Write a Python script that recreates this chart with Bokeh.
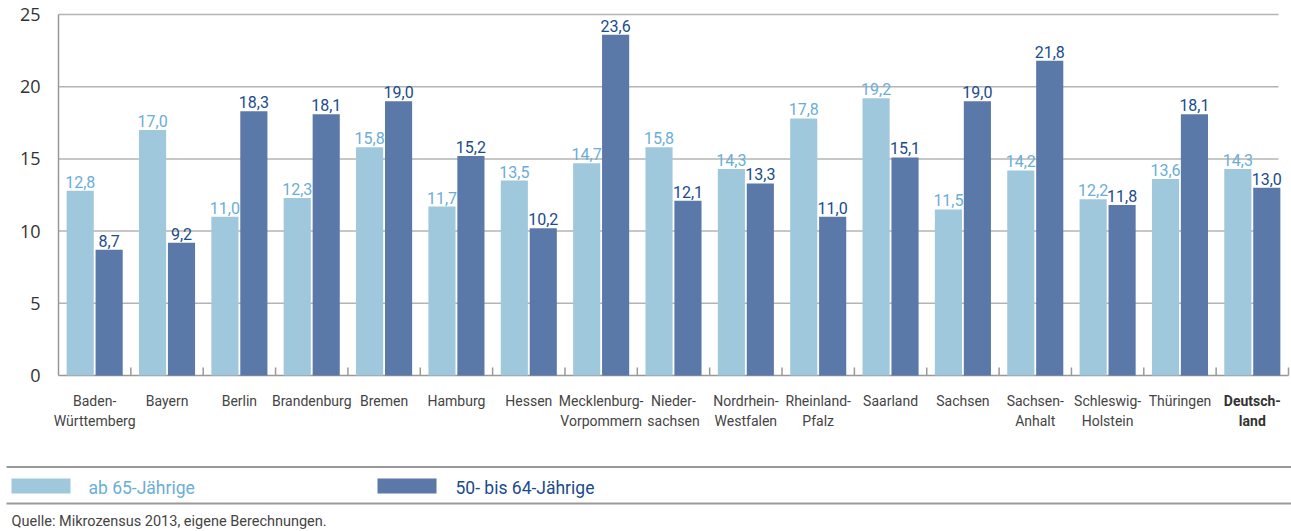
from bokeh.plotting import figure
from bokeh.models import Range1d, ColumnDataSource
from bokeh.core.properties import value
from bokeh.embed import file_html
from bokeh.resources import INLINE

# ---- data ----
states = ["Baden-\nWürttemberg", "Bayern", "Berlin", "Brandenburg", "Bremen", "Hamburg",
          "Hessen", "Mecklenburg-\nVorpommern", "Nieder-\nsachsen", "Nordrhein-\nWestfalen",
          "Rheinland-\nPfalz", "Saarland", "Sachsen", "Sachsen-\nAnhalt", "Schleswig-\nHolstein",
          "Thüringen", "Deutsch-\nland"]
ab65 = [12.8, 17.0, 11.0, 12.3, 15.8, 11.7, 13.5, 14.7, 15.8, 14.3, 17.8, 19.2, 11.5, 14.2, 12.2, 13.6, 14.3]
bis64 = [8.7, 9.2, 18.3, 18.1, 19.0, 15.2, 10.2, 23.6, 12.1, 13.3, 11.0, 15.1, 19.0, 21.8, 11.8, 18.1, 13.0]
y_ticks = [0, 5, 10, 15, 20, 25]
y_max = 25
series_names = ["ab 65-Jährige", "50- bis 64-Jährige"]
source_note = "Quelle: Mikrozensus 2013, eigene Berechnungen."

LIGHT = "#a0c8dd"
DARK = "#5a78a8"
LIGHT_TXT = "#6aaed6"
DARK_TXT = "#1a4b8c"
AXIS = "#999999"
GRID = "#b4b4b4"
FONT = "Roboto"

W, H = 1291, 531
L, R, T, B = 58, 1288, 14, 375   # plot area in page pixels
n = len(states)
ux = (R - L) / n
uy = (B - T) / y_max

def xd(px):
    return (px - L) / ux

def yd(py):
    return (B - py) / uy

p = figure(width=W, height=H, output_backend="svg", toolbar_location=None,
           x_axis_type=None, y_axis_type=None,
           x_range=Range1d(xd(0), xd(W)), y_range=Range1d(yd(H), yd(0)),
           min_border=0, min_border_left=0, min_border_right=0,
           min_border_top=0, min_border_bottom=0)
p.outline_line_color = None
p.grid.visible = False

# grid lines and axes
p.segment(x0=[0] * (len(y_ticks) - 1), x1=[xd(1278)] * (len(y_ticks) - 1),
          y0=y_ticks[1:], y1=y_ticks[1:], line_color=GRID, line_width=1.5)
p.segment(x0=[0], x1=[0], y0=[0], y1=[y_max], line_color=AXIS, line_width=1.5)
p.segment(x0=[0], x1=[n], y0=[0], y1=[0], line_color=AXIS, line_width=1.5)
p.segment(x0=list(range(1, n + 1)), x1=list(range(1, n + 1)),
          y0=[0] * n, y1=[yd(B - 8)] * n, line_color=AXIS, line_width=1.5)
p.text(x=[xd(40)] * len(y_ticks), y=y_ticks, text=[str(t) for t in y_ticks],
       text_align="right", text_baseline="middle", text_font=value("Open Sans"),
       text_font_size="18px", text_color="#333333")

# bars
off = 0.2
bw = 0.375
xs = [i + 0.5 for i in range(n)]
src = ColumnDataSource(dict(
    xl=[x - off for x in xs], xr=[x + off for x in xs],
    a=ab65, b=bis64,
    ta=[f"{v:.1f}".replace(".", ",") for v in ab65],
    tb=[f"{v:.1f}".replace(".", ",") for v in bis64],
))
p.vbar(x="xl", top="a", width=bw, bottom=0, source=src, fill_color=LIGHT, line_color=None)
p.vbar(x="xr", top="b", width=bw, bottom=0, source=src, fill_color=DARK, line_color=None)

p.text(x="xl", y="a", text="ta", source=src, text_align="center", text_baseline="bottom",
       y_offset=-3, text_font=value(FONT), text_font_size="16px", text_color=LIGHT_TXT)
p.text(x="xr", y="b", text="tb", source=src, text_align="center", text_baseline="bottom",
       y_offset=-3, text_font=value(FONT), text_font_size="16px", text_color=DARK_TXT)

# category labels
cat_src = ColumnDataSource(dict(x=xs[:-1], t=states[:-1]))
p.text(x="x", y=yd(392), text="t", source=cat_src, text_align="center", text_baseline="top",
       text_font=value(FONT), text_font_size="14px", text_color="#444444", text_line_height=1.3)
p.text(x=[xs[-1]], y=[yd(392)], text=[states[-1]], text_align="center", text_baseline="top",
       text_font=value(FONT), text_font_size="14px", text_font_style="bold",
       text_color="#333333", text_line_height=1.3)

# separator lines
p.segment(x0=[xd(6), xd(6)], x1=[xd(W), xd(W)], y0=[yd(466.5), yd(503)],
          y1=[yd(466.5), yd(503)], line_color=AXIS, line_width=2)

# legend
p.quad(left=[xd(11), xd(377)], right=[xd(70), xd(436)], top=[yd(478), yd(478)],
       bottom=[yd(493), yd(493)], fill_color=[LIGHT, DARK], line_color=None)
p.text(x=[xd(88), xd(455)], y=[yd(487), yd(487)], text=series_names, text_baseline="middle",
       text_font=value(FONT), text_font_size="17.5px", text_color=[LIGHT_TXT, DARK_TXT])

p.text(x=[xd(11)], y=[yd(521)], text=[source_note], text_baseline="middle",
       text_font=value(FONT), text_font_size="14.5px", text_color="#444444")

open("out.html", "w").write(file_html(p, INLINE))
